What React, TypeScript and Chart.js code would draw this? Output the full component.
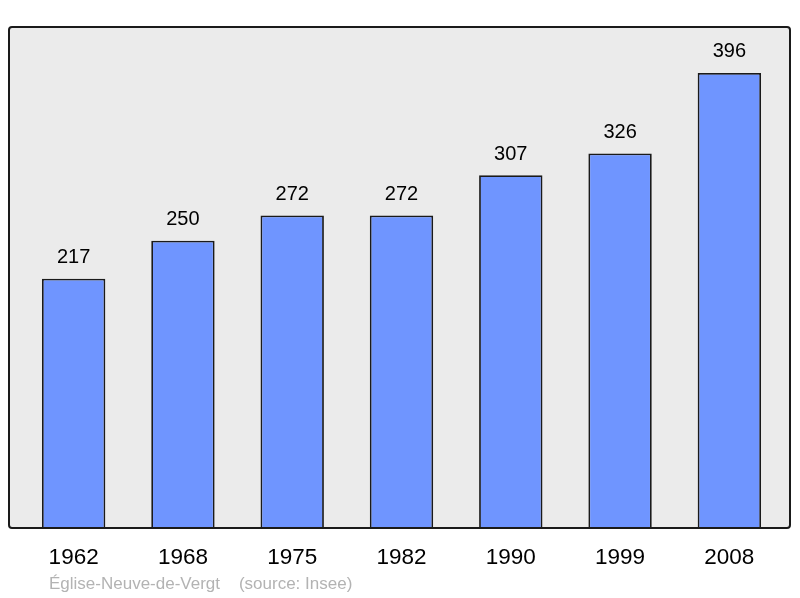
import React, { useEffect, useRef } from "react";
import { Chart, registerables } from "chart.js";

Chart.register(...registerables);

const years = ["1962", "1968", "1975", "1982", "1990", "1999", "2008"];
const population = [217, 250, 272, 272, 307, 326, 396];
const sourceText = "Église-Neuve-de-Vergt    (source: Insee)";

const framePlugin = {
  id: "frame",
  beforeDraw(chart: any) {
    const { ctx, chartArea } = chart;
    const l = chartArea.left - 10;
    const r = chartArea.right + 6;
    const t = chartArea.top;
    const b = chartArea.bottom;
    ctx.save();
    ctx.beginPath();
    if (ctx.roundRect) ctx.roundRect(l, t, r - l, b - t, 3);
    else ctx.rect(l, t, r - l, b - t);
    ctx.fillStyle = "#ebebeb";
    ctx.fill();
    ctx.restore();
  },
  afterDatasetsDraw(chart: any) {
    const { ctx, chartArea } = chart;
    const l = chartArea.left - 10;
    const r = chartArea.right + 6;
    const t = chartArea.top;
    const b = chartArea.bottom;
    ctx.save();
    ctx.beginPath();
    if (ctx.roundRect) ctx.roundRect(l, t, r - l, b - t, 3);
    else ctx.rect(l, t, r - l, b - t);
    ctx.lineWidth = 2;
    ctx.strokeStyle = "#1a1a1a";
    ctx.stroke();
    // value labels
    const meta = chart.getDatasetMeta(0);
    ctx.fillStyle = "#000";
    ctx.font = "20px 'Liberation Sans', Arial, sans-serif";
    ctx.textAlign = "center";
    ctx.textBaseline = "middle";
    meta.data.forEach((bar: any, i: number) => {
      ctx.fillText(String(population[i]), bar.x, bar.y - 21);
    });
    // source
    ctx.fillStyle = "#b3b3b3";
    ctx.font = "17px 'Liberation Sans', Arial, sans-serif";
    ctx.textAlign = "left";
    ctx.fillText(sourceText, l + 40, b + 56);
    ctx.restore();
  },
};

export default function App() {
  const ref = useRef<HTMLCanvasElement>(null);
  useEffect(() => {
    const chart = new Chart(ref.current!, {
      type: "bar",
      data: {
        labels: years,
        datasets: [
          {
            data: population,
            backgroundColor: "#6f95ff",
            borderColor: "#1a1a1a",
            borderWidth: 1.8,
            borderSkipped: "bottom",
            barPercentage: 0.58,
            categoryPercentage: 1,
          },
        ],
      },
      options: {
        responsive: false,
        animation: false,
        layout: { padding: { left: 19, right: 16, top: 27, bottom: 0 } },
        plugins: { legend: { display: false }, tooltip: { enabled: false } },
        scales: {
          x: {
            grid: { display: false },
            border: { display: false },
            ticks: {
              color: "#000",
              font: { size: 22.5, family: "'Liberation Sans', Arial, sans-serif" },
              padding: 8,
              maxRotation: 0,
            },
            afterFit(scale: any) {
              scale.height = 70;
            },
          },
          y: {
            display: false,
            min: 0,
            max: 436,
          },
        },
      },
      plugins: [framePlugin],
    });
    return () => chart.destroy();
  }, []);
  return (
    <div style={{ position: "fixed", left: 0, top: 0, width: 800, height: 598 }}>
      <canvas ref={ref} width={800} height={598} />
    </div>
  );
}
